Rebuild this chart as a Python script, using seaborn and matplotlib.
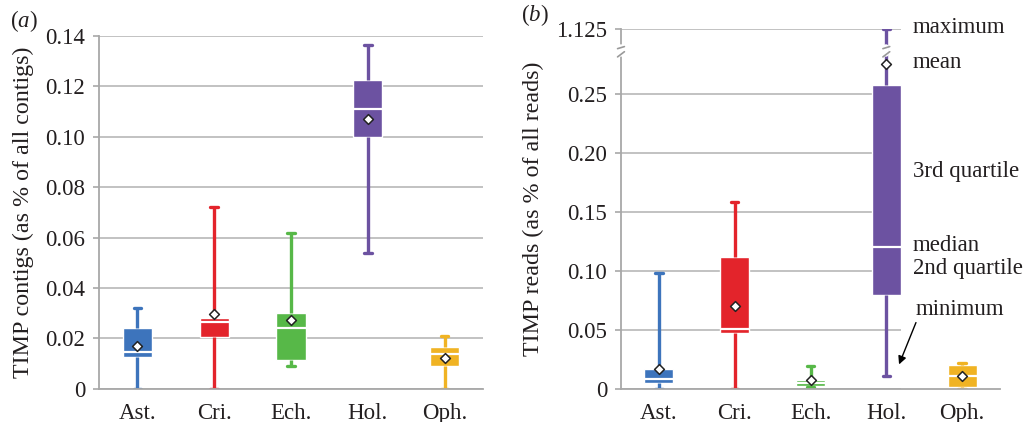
import matplotlib
matplotlib.use('Agg')
import matplotlib.pyplot as plt
import numpy as np
import pandas as pd
import seaborn as sns

sns.set_theme(style='white')
plt.rcParams['font.family'] = ['Liberation Serif', 'DejaVu Serif']
plt.rcParams['mathtext.fontset'] = 'custom'
plt.rcParams['mathtext.rm'] = 'Liberation Serif'
plt.rcParams['mathtext.it'] = 'Liberation Serif:italic'

groups = ['Ast.', 'Cri.', 'Ech.', 'Hol.', 'Oph.']
colors = ['#3D74BC', '#E3242B', '#57B848', '#6C52A1', '#F0B323']

# (a) TIMP contigs, % of all contigs
a_min = [0.0, 0.0, 0.0090, 0.0537, 0.0]
a_q1 = [0.0127, 0.0206, 0.0114, 0.1000, 0.0090]
a_med = [0.0144, 0.0266, 0.0239, 0.1109, 0.0138]
a_q3 = [0.0239, 0.0282, 0.0299, 0.1225, 0.0167]
a_max = [0.0319, 0.0720, 0.0617, 0.1363, 0.0209]
a_mean = [0.0169, 0.0296, 0.0273, 0.1070, 0.0120]
a_ticks = [0, 0.02, 0.04, 0.06, 0.08, 0.10, 0.12, 0.14]
a_ticklabels = ['0', '0.02', '0.04', '0.06', '0.08', '0.10', '0.12', '0.14']

# (b) TIMP reads, % of all reads (axis broken above 0.29)
b_min = [0.0, 0.0, 0.0010, 0.0110, 0.0]
b_q1 = [0.0045, 0.0468, 0.0023, 0.0790, 0.0010]
b_med = [0.0079, 0.0510, 0.0045, 0.1200, 0.0107]
b_q3 = [0.0169, 0.1117, 0.0073, 0.2573, 0.0197]
b_max = [0.0980, 0.1580, 0.0192, 1.1250, 0.0220]
b_mean = [0.0164, 0.0700, 0.0073, 0.2754, 0.0110]
b_ticks = [0, 0.05, 0.10, 0.15, 0.20, 0.25, 1.125]
b_ticklabels = ['0', '0.05', '0.10', '0.15', '0.20', '0.25', '1.125']

BREAK = 0.29
TOP_POS = 0.305
SQUEEZE = (TOP_POS - BREAK) / (1.125 - BREAK)

GRID = '#BDBDBD'
AXIS = '#A8A8A8'
TEXT = '#231F20'
FS = 16.5


def forward(y):
    y = np.asarray(y, dtype=float)
    return np.where(y <= BREAK, y, BREAK + (y - BREAK) * SQUEEZE)


def inverse(t):
    t = np.asarray(t, dtype=float)
    return np.where(t <= BREAK, t, BREAK + (t - BREAK) / SQUEEZE)


def five_number_frame(mins, q1s, meds, q3s, maxs):
    """Five values per group so that the quartiles land exactly on them."""
    rows = []
    for g, lo, q1, md, q3, hi in zip(groups, mins, q1s, meds, q3s, maxs):
        for v in (lo, q1, md, q3, hi):
            rows.append({'group': g, 'value': v})
    return pd.DataFrame(rows)


def draw_panel(ax, df, means, ticks, ticklabels, ylabel, grid_right):
    ax.hlines(ticks, -0.5, grid_right, colors=GRID, linewidth=1.3, zorder=0)
    for g, c in zip(groups, colors):
        sns.boxplot(data=df[df['group'] == g], x='group', y='value', order=groups,
                    color=c, saturation=1, width=0.38, whis=(0, 100),
                    linecolor='white', linewidth=1.0, showfliers=False,
                    whiskerprops={'color': c, 'linewidth': 2.4},
                    capprops={'color': c, 'linewidth': 2.4},
                    medianprops={'color': 'white', 'linewidth': 1.6},
                    capwidths=0.1, ax=ax)
    sns.stripplot(x=groups, y=means, order=groups, jitter=False, marker='D',
                  color='white', edgecolor='#222222', linewidth=1.1, size=5,
                  zorder=5, ax=ax)

    ax.set_xlim(-0.5, 4.5)
    ax.set_xticks(range(len(groups)))
    ax.set_xticklabels(groups, fontsize=FS, color=TEXT)
    ax.set_xticks(np.arange(-0.5, 5, 1), minor=True)
    ax.tick_params(axis='x', which='major', length=0, pad=10)
    ax.tick_params(axis='x', which='minor', length=6, width=1.2, color=AXIS, direction='out')
    ax.set_yticks(ticks)
    ax.set_yticklabels(ticklabels, fontsize=FS, color=TEXT)
    ax.tick_params(axis='y', length=4, width=1.2, color=AXIS, direction='out', pad=6, left=True)
    ax.set_xlabel('')
    ax.set_ylabel(ylabel, fontsize=17.3, color=TEXT)
    for side in ('top', 'right'):
        ax.spines[side].set_visible(False)
    for side in ('left', 'bottom'):
        ax.spines[side].set_color(AXIS)
        ax.spines[side].set_linewidth(1.3)


fig = plt.figure(figsize=(10.30, 4.22), dpi=100)
ax_a = fig.add_axes([0.0961, 0.0790, 0.3728, 0.8355])
ax_b = fig.add_axes([0.6029, 0.0790, 0.3680, 0.8524])

draw_panel(ax_a, five_number_frame(a_min, a_q1, a_med, a_q3, a_max), a_mean,
           a_ticks, a_ticklabels, 'TIMP contigs (as % of all contigs)', 4.5)
ax_a.set_ylim(0, 0.14)
ax_a.yaxis.set_label_coords(-0.169, 0.5)

ax_b.set_yscale('function', functions=(forward, inverse))
draw_panel(ax_b, five_number_frame(b_min, b_q1, b_med, b_q3, b_max), b_mean,
           b_ticks, b_ticklabels, 'TIMP reads (as % of all reads)', 3 + 0.19)
ax_b.set_ylim(0, 1.125)
ax_b.yaxis.set_label_coords(-0.203, 0.5)

# break marks on the y spine and on the Hol. whisker
for x in (-0.5, 3):
    ax_b.plot([x, x], [0.2835, 0.2905], color='white', lw=4, zorder=6, clip_on=False)
    for y0 in (0.2835, 0.2905):
        ax_b.plot([x - 0.045, x + 0.045], [y0 - 0.0022, y0 + 0.0022], color='#9A9A9A',
                  lw=1.2, zorder=7, clip_on=False)

# panel letters
fig.text(10 / 1030, 1 - 21 / 422, r'($\mathit{a}$)', fontsize=FS, color=TEXT, va='center')
fig.text(521 / 1030, 1 - 15 / 422, r'($\mathit{b}$)', fontsize=FS, color=TEXT, va='center')

# legend-like annotations in panel (b)
notes = [('maximum', 913, 33), ('mean', 913, 68), ('3rd quartile', 913, 177),
         ('median', 913, 251), ('2nd quartile', 913, 274), ('minimum', 916, 315)]
for label, px, py in notes:
    fig.text(px / 1030, 1 - py / 422, label, fontsize=FS, color=TEXT, va='baseline')
ax_b.annotate('', xy=(898 / 1030, 1 - 367 / 422), xycoords='figure fraction',
              xytext=(917 / 1030, 1 - 320 / 422), textcoords='figure fraction',
              arrowprops=dict(arrowstyle='-|>', color='black', lw=1.0, mutation_scale=12),
              annotation_clip=False)

fig.savefig('out.png', dpi=100)
